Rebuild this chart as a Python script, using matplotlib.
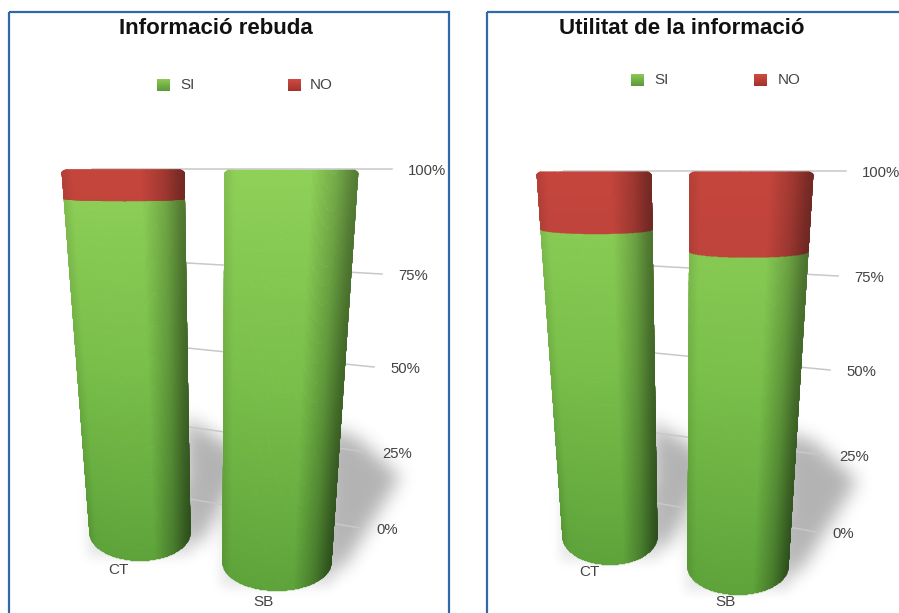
import numpy as np
import matplotlib
matplotlib.use('Agg')
import matplotlib.pyplot as plt
from matplotlib.colors import to_rgb
from matplotlib.path import Path
from matplotlib.patches import Rectangle

plt.rcParams['font.family'] = ['Liberation Sans', 'DejaVu Sans']

# data
titles = ['Informació rebuda', 'Utilitat de la informació']
categories = ['CT', 'SB']
series_names = ['SI', 'NO']
si_values = [[93, 100], [86, 82]]
no_values = [[7, 0], [14, 18]]
tick_values = [100, 75, 50, 25, 0]
tick_labels = ['100%', '75%', '50%', '25%', '0%']

# the 3D look: how far down the bar each tick sits (perspective)
depth_fraction = [0.0, 0.28, 0.545, 0.78, 1.0]

# pixel geometry of each panel: top left, top right, bottom left, bottom right,
# y of top, y where the sides end
bar_geometry = [
    [(62, 184, 90, 190, 170, 533), (225, 358, 223, 331, 170, 563)],
    [(537, 651, 563, 657, 172, 537), (690, 813, 688, 788, 172, 567)],
]
# gridlines: x start, x end, y start, y end for each tick
grid_geometry = [
    [(92, 392, 169, 169), (187, 382, 263, 274), (187, 374, 348, 367),
     (189, 366, 427, 452), (190, 360, 499, 528)],
    [(563, 846, 171, 171), (653, 838, 266, 276), (655, 830, 353, 370),
     (656, 823, 433, 455), (657, 816, 503, 532)],
]
label_offset = 16
category_pos = [[(118, 570), (263, 602)], [(589, 572), (725, 602)]]
title_pos = [(216, 28), (682, 29)]
legend_y = [85, 80]
legend_x = [[(157, 180), (288, 310)], [(631, 654), (754, 778)]]
frames = [(9, 449, 12), (487, 905, 12)]

shadow_offsets = [
    [(-5, -115), (60, -75), (10, 10), (-5, 10)],
    [(-5, -135), (25, -125), (69, -86), (15, 0), (-5, 15)],
]

greens = ['#8FD058', '#79BF4A', '#5EA33A']
reds = ['#C4453C', '#B8423B', '#A83A34']


def lerpColors(cols, t):
    rgb = np.array([to_rgb(c) for c in cols])
    stops = np.linspace(0, 1, len(cols))
    return np.stack([np.interp(t, stops, rgb[:, i]) for i in range(3)], axis=-1)


def valueToFraction(v):
    # tick_values is descending, np.interp wants ascending
    return np.interp(v, tick_values[::-1], depth_fraction[::-1])


def drawSegment(ax, geom, v0, v1, cols, zorder):
    ''' Draws one stacked piece of a cylinder between values v0 and v1. '''
    tl, tr, bl, br, ytop, yend = geom
    u = np.sin(np.linspace(-np.pi / 2, np.pi / 2, 161))
    v = np.linspace(v0, v1, 201)
    U, V = np.meshgrid(u, v)
    F = valueToFraction(V)
    left = tl + (bl - tl) * F
    right = tr + (br - tr) * F
    X = left + (U + 1) / 2 * (right - left)
    sag = 28 * F * np.sqrt(np.clip(1 - U ** 2, 0, 1))
    corner = np.clip((np.abs(U) - 0.92) / 0.08, 0, 1)
    rounding = 4 * (1 - np.sqrt(1 - corner ** 2)) * np.exp(-(100 - V) / 0.6)
    Y = ytop + (yend - ytop) * F + sag + rounding

    uc = (U[:-1, :-1] + U[1:, 1:]) / 2
    fc = (F[:-1, :-1] + F[1:, 1:]) / 2
    across = np.interp(uc, [-1, -0.85, 0.3, 0.68, 0.92, 1],
                       [0.92, 1, 1, 0.82, 0.64, 0.6])
    # the dark side gets darker towards the foot of the bar
    across = across - 0.12 * fc * np.clip((uc - 0.3) / 0.7, 0, 1)
    rgb = lerpColors(cols, fc) * across[..., None]
    ax.pcolormesh(X, Y, rgb, shading='flat', zorder=zorder, antialiased=True,
                  edgecolors='face', linewidth=0.3)


def softShadow(ax, pts, sigma, strength, zorder=1):
    pts = np.array(pts, dtype=float)
    pad = int(sigma * 3) + 2
    x0, y0 = np.floor(pts.min(axis=0)).astype(int) - pad
    x1, y1 = np.ceil(pts.max(axis=0)).astype(int) + pad
    xs, ys = np.meshgrid(np.arange(x0, x1), np.arange(y0, y1))
    inside = Path(pts).contains_points(np.c_[xs.ravel(), ys.ravel()])
    mask = inside.reshape(xs.shape).astype(float)
    k = np.exp(-np.arange(-pad, pad + 1) ** 2 / (2 * sigma ** 2))
    k /= k.sum()
    mask = np.apply_along_axis(lambda r: np.convolve(r, k, mode='same'), 0, mask)
    mask = np.apply_along_axis(lambda r: np.convolve(r, k, mode='same'), 1, mask)
    img = np.zeros(mask.shape + (4,))
    img[..., 3] = mask * strength
    ax.imshow(img, extent=(x0 - 0.5, x1 - 0.5, y1 - 0.5, y0 - 0.5), aspect='auto',
              interpolation='bilinear', zorder=zorder)


def drawSwatch(ax, x, y, cols):
    xs = np.array([x, x + 13])
    ys = np.linspace(y - 6, y + 6, 13)
    t = np.linspace(0, 1, 12)[:, None]
    ax.pcolormesh(xs, ys, lerpColors(cols, t), shading='flat', zorder=5)


fig = plt.figure(figsize=(8.99, 6.13), dpi=100)
ax = fig.add_axes([0, 0, 1, 1])
ax.set_xlim(0, 899)
ax.set_ylim(613, 0)
ax.autoscale(False)
ax.axis('off')

for p in range(2):
    x0, x1, ytop = frames[p]
    ax.add_patch(Rectangle((x0, ytop), x1 - x0, 620 - ytop, fill=False,
                           edgecolor='#2F69A8', linewidth=1.6, zorder=10))
    ax.text(title_pos[p][0], title_pos[p][1], titles[p], fontsize=16,
            fontweight='bold', color='#111111', ha='center', va='center')

    # legend
    for i, name in enumerate(series_names):
        sx, tx = legend_x[p][i]
        drawSwatch(ax, sx, legend_y[p], ['#8CC653', '#5C9A3C'] if i == 0
                   else ['#CC4A42', '#A5322D'])
        ax.text(tx, legend_y[p], name, fontsize=11, color='#444444',
                ha='left', va='center')

    # shadows sit behind everything
    for b in range(2):
        tl, tr, bl, br, yt, yend = bar_geometry[p][b]
        softShadow(ax, [(br + dx, yend + dy) for dx, dy in shadow_offsets[b]],
                   9, 0.3)
        softShadow(ax, [(bl - 2, yend - 50), (br, yend - 50), (br, yend + 24),
                        (bl - 2, yend + 24)], 6, 0.10)

    # gridlines and value labels
    for t, lab in enumerate(tick_labels):
        gx0, gx1, gy0, gy1 = grid_geometry[p][t]
        ax.plot([gx0, gx1], [gy0, gy1], color='#C8C8C8', linewidth=1.1, zorder=2)
        ax.text(gx1 + label_offset, gy1 + 2, lab, fontsize=10.7, color='#444444',
                ha='left', va='center')

    # stacked bars
    for b, cat in enumerate(categories):
        si = si_values[p][b]
        no = no_values[p][b]
        geom = bar_geometry[p][b]
        drawSegment(ax, geom, 0, si, greens, 3)
        if no > 0:
            drawSegment(ax, geom, si, si + no, reds, 4)
        ax.text(category_pos[p][b][0], category_pos[p][b][1], cat, fontsize=11,
                color='#444444', ha='center', va='center', zorder=6)

fig.savefig('out.png', dpi=100)
